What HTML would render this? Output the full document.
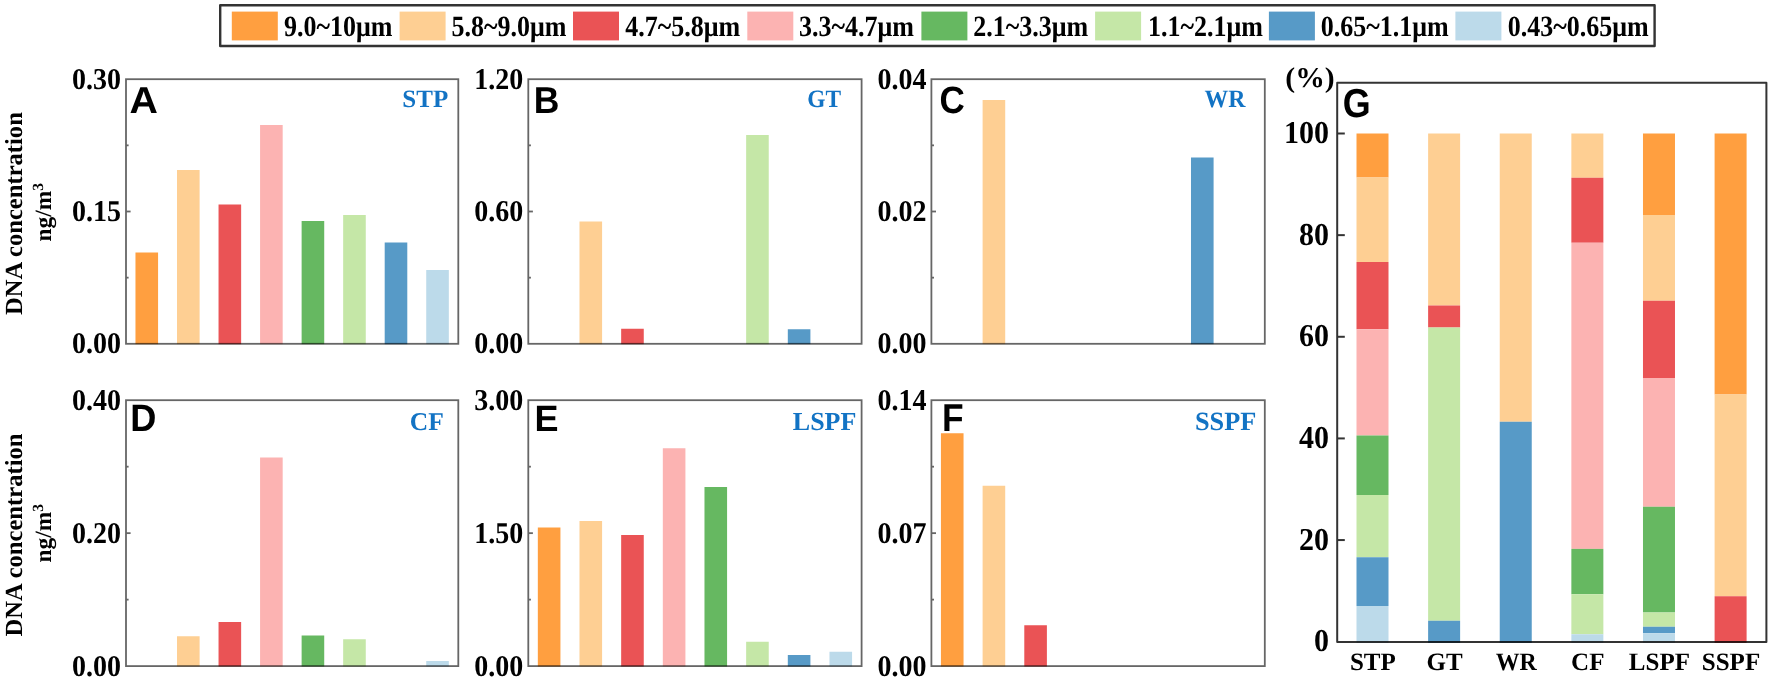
<!DOCTYPE html>
<html lang="en">
<head>
<meta charset="utf-8">
<title>DNA concentration by particle size</title>
<style>
html,body{margin:0;padding:0;background:#fff;}
body{width:1772px;height:680px;overflow:hidden;}
svg{display:block;}
text{fill:#000;text-rendering:geometricPrecision;}
.fr{mix-blend-mode:multiply;}
.lg{font:bold 26px "Liberation Serif", "Times New Roman", serif;}
.tk{font:bold 28px "Liberation Serif", "Times New Roman", serif;}
.gt{font:bold 30px "Liberation Serif", "Times New Roman", serif;}
.gp{font:bold 28.5px "Liberation Serif", "Times New Roman", serif;}
.xl{font:bold 25px "Liberation Serif", "Times New Roman", serif;}
.nm{font:bold 25px "Liberation Serif", "Times New Roman", serif;fill:#1273C4;}
.yt{font:bold 24.6px "Liberation Serif", "Times New Roman", serif;}
.yu{font:bold 23.4px "Liberation Serif", "Times New Roman", serif;}
.pl{font:bold 36px "Liberation Sans", Arial, sans-serif;}
</style>
</head>
<body>
<svg width="1772" height="680" viewBox="0 0 1772 680">
<rect x="0" y="0" width="1772" height="680" fill="#ffffff"/>
<g id="legend">
<rect x="220.2" y="5.2" width="1434.4" height="40.8" fill="#fff" stroke="#333" stroke-width="2.4" stroke-linejoin="round"/>
<rect x="231.8" y="11.6" width="46" height="28.8" fill="#FF9F40"/>
<text transform="translate(284.00 35.85) scale(1.0 1.13)" class="lg" text-anchor="start">9.0~10μm</text>
<rect x="399.6" y="11.6" width="46" height="28.8" fill="#FECF93"/>
<text transform="translate(451.50 35.85) scale(1.0 1.13)" class="lg" text-anchor="start">5.8~9.0μm</text>
<rect x="573.0" y="11.6" width="46" height="28.8" fill="#EA5355"/>
<text transform="translate(625.30 35.85) scale(1.0 1.13)" class="lg" text-anchor="start">4.7~5.8μm</text>
<rect x="747.3" y="11.6" width="46" height="28.8" fill="#FCB3B2"/>
<text transform="translate(799.10 35.85) scale(1.0 1.13)" class="lg" text-anchor="start">3.3~4.7μm</text>
<rect x="921.4" y="11.6" width="46" height="28.8" fill="#66B861"/>
<text transform="translate(973.20 35.85) scale(1.0 1.13)" class="lg" text-anchor="start">2.1~3.3μm</text>
<rect x="1095.1" y="11.6" width="46" height="28.8" fill="#C5E7A7"/>
<text transform="translate(1147.90 35.85) scale(1.0 1.13)" class="lg" text-anchor="start">1.1~2.1μm</text>
<rect x="1268.9" y="11.6" width="46" height="28.8" fill="#579AC7"/>
<text transform="translate(1320.80 35.85) scale(1.0 1.13)" class="lg" text-anchor="start">0.65~1.1μm</text>
<rect x="1455.4" y="11.6" width="46" height="28.8" fill="#BCDAEA"/>
<text transform="translate(1507.70 35.85) scale(1.0 1.13)" class="lg" text-anchor="start">0.43~0.65μm</text>
</g>
<g id="panelA">
<rect x="135.47" y="252.50" width="22.6" height="91.65" fill="#FF9F40"/>
<rect x="177.01" y="170.00" width="22.6" height="174.15" fill="#FECF93"/>
<rect x="218.54" y="204.50" width="22.6" height="139.65" fill="#EA5355"/>
<rect x="260.08" y="125.00" width="22.6" height="219.15" fill="#FCB3B2"/>
<rect x="301.62" y="221.00" width="22.6" height="123.15" fill="#66B861"/>
<rect x="343.16" y="215.00" width="22.6" height="129.15" fill="#C5E7A7"/>
<rect x="384.69" y="242.50" width="22.6" height="101.65" fill="#579AC7"/>
<rect x="426.23" y="270.00" width="22.6" height="74.15" fill="#BCDAEA"/>
<rect class="fr" x="126.0" y="79.2" width="332.30" height="264.60" fill="none" stroke="#666666" stroke-width="1.8"/>
<line x1="126.0" x2="128.6" y1="145.35" y2="145.35" stroke="#666666" stroke-width="1.8"/>
<line x1="126.0" x2="130.6" y1="211.50" y2="211.50" stroke="#666666" stroke-width="1.8"/>
<line x1="126.0" x2="128.6" y1="277.65" y2="277.65" stroke="#666666" stroke-width="1.8"/>
<text transform="translate(121.00 88.70) scale(1.0 1.08)" class="tk" text-anchor="end">0.30</text>
<text transform="translate(121.00 221.00) scale(1.0 1.08)" class="tk" text-anchor="end">0.15</text>
<text transform="translate(121.00 353.30) scale(1.0 1.08)" class="tk" text-anchor="end">0.00</text>
<text transform="translate(129.60 113.00) scale(1.075 1.025)" class="pl" text-anchor="start" style="font-size:36.6px">A</text>
<text x="425.30" y="106.80" class="nm" text-anchor="middle" style="font-size:25px">STP</text>
</g>
<g id="panelB">
<rect x="579.49" y="221.50" width="22.6" height="122.65" fill="#FECF93"/>
<rect x="621.16" y="328.75" width="22.6" height="15.40" fill="#EA5355"/>
<rect x="746.14" y="135.00" width="22.6" height="209.15" fill="#C5E7A7"/>
<rect x="787.81" y="329.25" width="22.6" height="14.90" fill="#579AC7"/>
<rect class="fr" x="528.3" y="79.2" width="333.30" height="264.60" fill="none" stroke="#666666" stroke-width="1.8"/>
<line x1="528.3" x2="530.9" y1="145.35" y2="145.35" stroke="#666666" stroke-width="1.8"/>
<line x1="528.3" x2="532.9" y1="211.50" y2="211.50" stroke="#666666" stroke-width="1.8"/>
<line x1="528.3" x2="530.9" y1="277.65" y2="277.65" stroke="#666666" stroke-width="1.8"/>
<text transform="translate(523.30 88.70) scale(1.0 1.08)" class="tk" text-anchor="end">1.20</text>
<text transform="translate(523.30 221.00) scale(1.0 1.08)" class="tk" text-anchor="end">0.60</text>
<text transform="translate(523.30 353.30) scale(1.0 1.08)" class="tk" text-anchor="end">0.00</text>
<text transform="translate(533.65 112.80) scale(0.97 1.025)" class="pl" text-anchor="start" style="font-size:36.6px">B</text>
<text x="824.20" y="106.80" class="nm" text-anchor="middle" style="font-size:25px" textLength="33.8" lengthAdjust="spacingAndGlyphs">GT</text>
</g>
<g id="panelC">
<rect x="982.61" y="100.00" width="22.6" height="244.15" fill="#FECF93"/>
<rect x="1190.99" y="157.50" width="22.6" height="186.65" fill="#579AC7"/>
<rect class="fr" x="931.4" y="79.2" width="333.40" height="264.60" fill="none" stroke="#666666" stroke-width="1.8"/>
<line x1="931.4" x2="934.0" y1="145.35" y2="145.35" stroke="#666666" stroke-width="1.8"/>
<line x1="931.4" x2="936.0" y1="211.50" y2="211.50" stroke="#666666" stroke-width="1.8"/>
<line x1="931.4" x2="934.0" y1="277.65" y2="277.65" stroke="#666666" stroke-width="1.8"/>
<text transform="translate(926.40 88.70) scale(1.0 1.08)" class="tk" text-anchor="end">0.04</text>
<text transform="translate(926.40 221.00) scale(1.0 1.08)" class="tk" text-anchor="end">0.02</text>
<text transform="translate(926.40 353.30) scale(1.0 1.08)" class="tk" text-anchor="end">0.00</text>
<text transform="translate(939.60 112.65) scale(1.0 1.09)" class="pl" text-anchor="start" style="font-size:35px">C</text>
<text x="1224.90" y="106.80" class="nm" text-anchor="middle" style="font-size:25px" textLength="40.9" lengthAdjust="spacingAndGlyphs">WR</text>
</g>
<g id="panelD">
<rect x="177.01" y="636.25" width="22.6" height="30.20" fill="#FECF93"/>
<rect x="218.54" y="622.00" width="22.6" height="44.45" fill="#EA5355"/>
<rect x="260.08" y="457.50" width="22.6" height="208.95" fill="#FCB3B2"/>
<rect x="301.62" y="635.50" width="22.6" height="30.95" fill="#66B861"/>
<rect x="343.16" y="639.25" width="22.6" height="27.20" fill="#C5E7A7"/>
<rect x="426.23" y="661.00" width="22.6" height="5.45" fill="#BCDAEA"/>
<rect class="fr" x="126.0" y="400.2" width="332.30" height="265.90" fill="none" stroke="#666666" stroke-width="1.8"/>
<line x1="126.0" x2="128.6" y1="466.68" y2="466.68" stroke="#666666" stroke-width="1.8"/>
<line x1="126.0" x2="130.6" y1="533.15" y2="533.15" stroke="#666666" stroke-width="1.8"/>
<line x1="126.0" x2="128.6" y1="599.62" y2="599.62" stroke="#666666" stroke-width="1.8"/>
<text transform="translate(121.00 409.70) scale(1.0 1.08)" class="tk" text-anchor="end">0.40</text>
<text transform="translate(121.00 542.65) scale(1.0 1.08)" class="tk" text-anchor="end">0.20</text>
<text transform="translate(121.00 675.60) scale(1.0 1.08)" class="tk" text-anchor="end">0.00</text>
<text transform="translate(130.15 431.30) scale(1.055 1.112)" class="pl" text-anchor="start" style="font-size:34.3px">D</text>
<text x="426.80" y="429.80" class="nm" text-anchor="middle" style="font-size:25.5px">CF</text>
</g>
<g id="panelE">
<rect x="537.83" y="527.50" width="22.6" height="138.95" fill="#FF9F40"/>
<rect x="579.49" y="521.00" width="22.6" height="145.45" fill="#FECF93"/>
<rect x="621.16" y="535.00" width="22.6" height="131.45" fill="#EA5355"/>
<rect x="662.82" y="448.25" width="22.6" height="218.20" fill="#FCB3B2"/>
<rect x="704.48" y="487.00" width="22.6" height="179.45" fill="#66B861"/>
<rect x="746.14" y="641.75" width="22.6" height="24.70" fill="#C5E7A7"/>
<rect x="787.81" y="655.00" width="22.6" height="11.45" fill="#579AC7"/>
<rect x="829.47" y="651.75" width="22.6" height="14.70" fill="#BCDAEA"/>
<rect class="fr" x="528.3" y="400.2" width="333.30" height="265.90" fill="none" stroke="#666666" stroke-width="1.8"/>
<line x1="528.3" x2="530.9" y1="466.68" y2="466.68" stroke="#666666" stroke-width="1.8"/>
<line x1="528.3" x2="532.9" y1="533.15" y2="533.15" stroke="#666666" stroke-width="1.8"/>
<line x1="528.3" x2="530.9" y1="599.62" y2="599.62" stroke="#666666" stroke-width="1.8"/>
<text transform="translate(523.30 409.70) scale(1.0 1.08)" class="tk" text-anchor="end">3.00</text>
<text transform="translate(523.30 542.65) scale(1.0 1.08)" class="tk" text-anchor="end">1.50</text>
<text transform="translate(523.30 675.60) scale(1.0 1.08)" class="tk" text-anchor="end">0.00</text>
<text transform="translate(534.50 430.80) scale(1.0 1.018)" class="pl" text-anchor="start" style="font-size:36px">E</text>
<text x="824.60" y="429.80" class="nm" text-anchor="middle" style="font-size:26px">LSPF</text>
</g>
<g id="panelF">
<rect x="940.94" y="433.25" width="22.6" height="233.20" fill="#FF9F40"/>
<rect x="982.61" y="485.75" width="22.6" height="180.70" fill="#FECF93"/>
<rect x="1024.29" y="625.25" width="22.6" height="41.20" fill="#EA5355"/>
<rect class="fr" x="931.4" y="400.2" width="333.40" height="265.90" fill="none" stroke="#666666" stroke-width="1.8"/>
<line x1="931.4" x2="934.0" y1="466.68" y2="466.68" stroke="#666666" stroke-width="1.8"/>
<line x1="931.4" x2="936.0" y1="533.15" y2="533.15" stroke="#666666" stroke-width="1.8"/>
<line x1="931.4" x2="934.0" y1="599.62" y2="599.62" stroke="#666666" stroke-width="1.8"/>
<text transform="translate(926.40 409.70) scale(1.0 1.08)" class="tk" text-anchor="end">0.14</text>
<text transform="translate(926.40 542.65) scale(1.0 1.08)" class="tk" text-anchor="end">0.07</text>
<text transform="translate(926.40 675.60) scale(1.0 1.08)" class="tk" text-anchor="end">0.00</text>
<text transform="translate(942.05 431.10) scale(1.0 1.097)" class="pl" text-anchor="start" style="font-size:35.4px">F</text>
<text x="1225.60" y="429.80" class="nm" text-anchor="middle" style="font-size:26.3px">SSPF</text>
</g>
<text transform="translate(22,213.6) rotate(-90)" class="yt" text-anchor="middle">DNA concentration</text>
<text transform="translate(22,535.0) rotate(-90)" class="yt" text-anchor="middle">DNA concentration</text>
<text transform="translate(51,212.2) rotate(-90)" class="yu" text-anchor="middle">ng/m<tspan dy="-8.5" style="font-size:15.5px">3</tspan></text>
<text transform="translate(51,533.2) rotate(-90)" class="yu" text-anchor="middle">ng/m<tspan dy="-8.5" style="font-size:15.5px">3</tspan></text>
<g id="panelG">
<rect x="1356.50" y="133.50" width="32.0" height="44.00" fill="#FF9F40"/>
<rect x="1356.50" y="177.50" width="32.0" height="84.50" fill="#FECF93"/>
<rect x="1356.50" y="262.00" width="32.0" height="67.25" fill="#EA5355"/>
<rect x="1356.50" y="329.25" width="32.0" height="106.25" fill="#FCB3B2"/>
<rect x="1356.50" y="435.50" width="32.0" height="59.50" fill="#66B861"/>
<rect x="1356.50" y="495.00" width="32.0" height="62.25" fill="#C5E7A7"/>
<rect x="1356.50" y="557.25" width="32.0" height="48.75" fill="#579AC7"/>
<rect x="1356.50" y="606.00" width="32.0" height="36.80" fill="#BCDAEA"/>
<text x="1372.90" y="670.20" class="xl" text-anchor="middle">STP</text>
<rect x="1428.12" y="133.50" width="32.0" height="172.00" fill="#FECF93"/>
<rect x="1428.12" y="305.50" width="32.0" height="22.00" fill="#EA5355"/>
<rect x="1428.12" y="327.50" width="32.0" height="293.25" fill="#C5E7A7"/>
<rect x="1428.12" y="620.75" width="32.0" height="22.05" fill="#579AC7"/>
<text x="1444.52" y="670.20" class="xl" text-anchor="middle">GT</text>
<rect x="1499.74" y="133.50" width="32.0" height="288.25" fill="#FECF93"/>
<rect x="1499.74" y="421.75" width="32.0" height="221.05" fill="#579AC7"/>
<text x="1516.14" y="670.20" class="xl" text-anchor="middle" textLength="41" lengthAdjust="spacingAndGlyphs">WR</text>
<rect x="1571.36" y="133.50" width="32.0" height="44.25" fill="#FECF93"/>
<rect x="1571.36" y="177.75" width="32.0" height="65.00" fill="#EA5355"/>
<rect x="1571.36" y="242.75" width="32.0" height="306.15" fill="#FCB3B2"/>
<rect x="1571.36" y="548.90" width="32.0" height="45.35" fill="#66B861"/>
<rect x="1571.36" y="594.25" width="32.0" height="40.00" fill="#C5E7A7"/>
<rect x="1571.36" y="634.25" width="32.0" height="8.55" fill="#BCDAEA"/>
<text x="1587.76" y="670.20" class="xl" text-anchor="middle">CF</text>
<rect x="1642.98" y="133.50" width="32.0" height="81.50" fill="#FF9F40"/>
<rect x="1642.98" y="215.00" width="32.0" height="85.75" fill="#FECF93"/>
<rect x="1642.98" y="300.75" width="32.0" height="77.25" fill="#EA5355"/>
<rect x="1642.98" y="378.00" width="32.0" height="128.75" fill="#FCB3B2"/>
<rect x="1642.98" y="506.75" width="32.0" height="105.75" fill="#66B861"/>
<rect x="1642.98" y="612.50" width="32.0" height="14.25" fill="#C5E7A7"/>
<rect x="1642.98" y="626.75" width="32.0" height="6.50" fill="#579AC7"/>
<rect x="1642.98" y="633.25" width="32.0" height="9.55" fill="#BCDAEA"/>
<text x="1659.38" y="670.20" class="xl" text-anchor="middle">LSPF</text>
<rect x="1714.60" y="133.50" width="32.0" height="261.00" fill="#FF9F40"/>
<rect x="1714.60" y="394.50" width="32.0" height="201.75" fill="#FECF93"/>
<rect x="1714.60" y="596.25" width="32.0" height="46.55" fill="#EA5355"/>
<text x="1731.00" y="670.20" class="xl" text-anchor="middle">SSPF</text>
<rect class="fr" x="1337.2" y="82.7" width="429.20" height="559.30" fill="none" stroke="#333333" stroke-width="2.0" stroke-linejoin="round"/>
<line x1="1337.2" x2="1344.8" y1="540.06" y2="540.06" stroke="#333333" stroke-width="2.0"/>
<line x1="1337.2" x2="1344.8" y1="438.42" y2="438.42" stroke="#333333" stroke-width="2.0"/>
<line x1="1337.2" x2="1344.8" y1="336.78" y2="336.78" stroke="#333333" stroke-width="2.0"/>
<line x1="1337.2" x2="1344.8" y1="235.14" y2="235.14" stroke="#333333" stroke-width="2.0"/>
<line x1="1337.2" x2="1344.8" y1="133.50" y2="133.50" stroke="#333333" stroke-width="2.0"/>
<text transform="translate(1328.90 651.20) scale(1.0 1.062)" class="gt" text-anchor="end">0</text>
<text transform="translate(1328.90 549.56) scale(1.0 1.062)" class="gt" text-anchor="end">20</text>
<text transform="translate(1328.90 447.92) scale(1.0 1.062)" class="gt" text-anchor="end">40</text>
<text transform="translate(1328.90 346.28) scale(1.0 1.062)" class="gt" text-anchor="end">60</text>
<text transform="translate(1328.90 244.64) scale(1.0 1.062)" class="gt" text-anchor="end">80</text>
<text transform="translate(1328.90 143.00) scale(1.0 1.062)" class="gt" text-anchor="end">100</text>
<text transform="translate(1310.00 87.00) scale(1.04 1.0)" class="gp" text-anchor="middle">(%)</text>
<text transform="translate(1342.70 117.10) scale(0.96 1.08)" class="pl" text-anchor="start" style="font-size:37.4px">G</text>
</g>
</svg>
</body>
</html>
